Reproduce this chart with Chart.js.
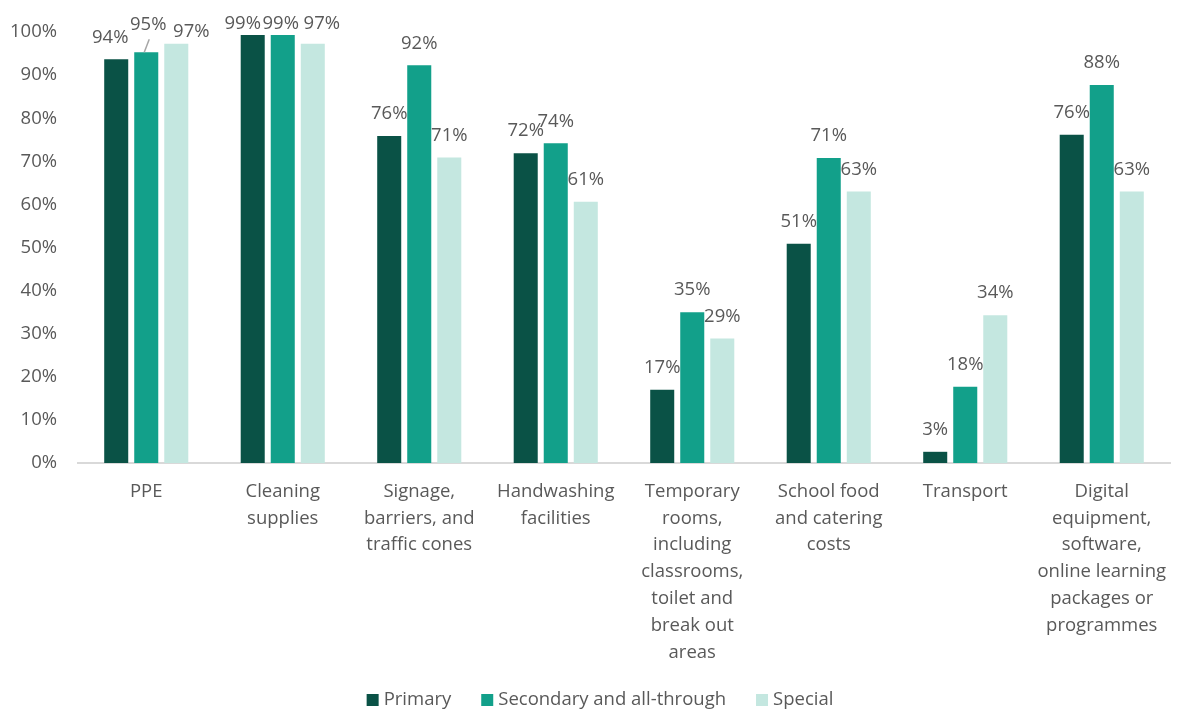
<!DOCTYPE html>
<html>
<head>
<meta charset="utf-8">
<script src="https://cdn.jsdelivr.net/npm/chart.js@4.4.1/dist/chart.umd.min.js"></script>
<style>
  body { margin: 0; background: #fff; }
  #wrap { width: 1177px; height: 711px; }
</style>
</head>
<body>
<div id="wrap"><canvas id="barChart" width="1177" height="711"></canvas></div>
<script>
const categories = [
    'PPE',
    ['Cleaning', 'supplies'],
    ['Signage,', 'barriers, and', 'traffic cones'],
    ['Handwashing', 'facilities'],
    ['Temporary', 'rooms,', 'including', 'classrooms,', 'toilet and', 'break out', 'areas'],
    ['School food', 'and catering', 'costs'],
    'Transport',
    ['Digital', 'equipment,', 'software,', 'online learning', 'packages or', 'programmes']
];
const primary = [93.7, 99.3, 75.9, 71.9, 17.0, 50.9, 2.6, 76.2];
const secondary = [95.3, 99.3, 92.3, 74.2, 35.0, 70.8, 17.7, 87.7];
const special = [97.3, 97.3, 70.9, 60.6, 28.9, 63.0, 34.3, 63.0];
const yTicks = [0, 10, 20, 30, 40, 50, 60, 70, 80, 90, 100];

const FONT = "'Open Sans', 'Noto Sans', sans-serif";
const FSIZE = 18.5;
const GREY = '#595959';

// hand nudges for labels that Excel moved around near the top
const labelNudge = {
    '0-0': [-6, 0],
    '1-0': [2, -6],
    '2-0': [15, 10],
    '0-1': [-10, 11],
    '1-1': [-2, 11],
    '2-1': [9, 2]
};

const valueLabels = {
    id: 'valueLabels',
    afterDatasetsDraw(chart) {
        const ctx = chart.ctx;
        ctx.save();
        ctx.font = FSIZE + 'px ' + FONT;
        ctx.fillStyle = GREY;
        ctx.textAlign = 'center';
        ctx.textBaseline = 'middle';
        chart.data.datasets.forEach((ds, d) => {
            chart.getDatasetMeta(d).data.forEach((bar, i) => {
                const n = labelNudge[d + '-' + i] || [0, 0];
                const x = bar.x + n[0];
                const y = bar.y - 22 + n[1];
                if (d === 1 && i === 0) {
                    ctx.strokeStyle = '#a6a6a6';
                    ctx.lineWidth = 1.5;
                    ctx.beginPath();
                    ctx.moveTo(bar.x - 2, bar.y);
                    ctx.lineTo(bar.x + 3, y + 15);
                    ctx.stroke();
                }
                ctx.fillText(Math.round(ds.data[i]) + '%', x, y);
            });
        });
        ctx.restore();
    }
};

// legend drawn by hand so the spacing matches the original
const bottomLegend = {
    id: 'bottomLegend',
    afterDraw(chart) {
        const ctx = chart.ctx;
        const sets = chart.data.datasets;
        ctx.save();
        ctx.font = FSIZE + 'px ' + FONT;
        ctx.textBaseline = 'middle';
        ctx.textAlign = 'left';
        const widths = sets.map(ds => 12 + 5 + ctx.measureText(ds.label).width);
        const total = widths.reduce((a, b) => a + b, 0) + 30 * (sets.length - 1);
        let x = 600 - total / 2;
        const y = 700;
        sets.forEach((ds, k) => {
            ctx.fillStyle = ds.backgroundColor;
            ctx.fillRect(x, y - 6, 12, 12);
            ctx.fillStyle = GREY;
            ctx.fillText(ds.label, x + 17, y);
            x += widths[k] + 30;
        });
        ctx.restore();
    }
};

const barChart_config = {
    type: 'bar',
    data: {
        labels: categories,
        datasets: [
            { label: 'Primary', data: primary, backgroundColor: '#0a5246' },
            { label: 'Secondary and all-through', data: secondary, backgroundColor: '#12a08a' },
            { label: 'Special', data: special, backgroundColor: '#c4e7e0' }
        ]
    },
    options: {
        responsive: false,
        animation: false,
        categoryPercentage: 0.66,
        barPercentage: 0.8,
        layout: { padding: { top: 31, right: 7, left: 0, bottom: 43 } },
        scales: {
            x: {
                grid: { display: false, drawTicks: false },
                border: { color: '#d9d9d9', width: 2 },
                ticks: {
                    color: GREY,
                    font: { family: FONT, size: FSIZE, lineHeight: 1.45 },
                    padding: 15,
                    maxRotation: 0,
                    autoSkip: false
                },
                afterFit(s) {
                    s.height = 205;
                    s.paddingLeft = 0;
                    s.paddingRight = 0;
                }
            },
            y: {
                min: 0,
                max: 100,
                grid: { display: false, drawTicks: false },
                border: { display: false },
                afterBuildTicks(s) { s.ticks = yTicks.map(v => ({ value: v })); },
                ticks: {
                    color: GREY,
                    font: { family: FONT, size: FSIZE },
                    padding: 21,
                    callback: v => v + '%'
                },
                afterFit(s) { s.width = 78; }
            }
        },
        plugins: {
            legend: { display: false },
            tooltip: { enabled: false }
        }
    },
    plugins: [valueLabels, bottomLegend]
};

new Chart(document.getElementById('barChart'), barChart_config);
</script>
</body>
</html>
